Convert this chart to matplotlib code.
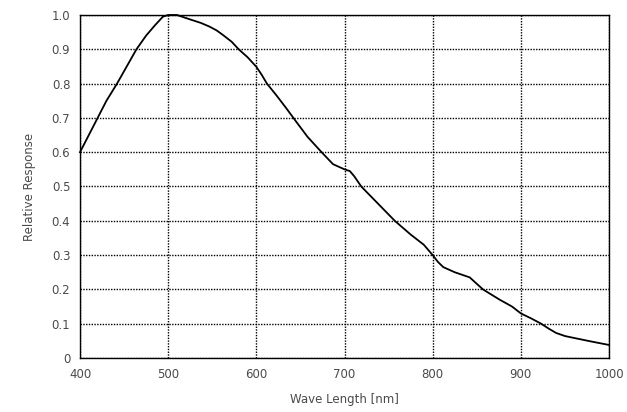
import matplotlib
matplotlib.use("Agg")
import matplotlib.pyplot as plt

# =========================
# Data
# =========================
wavelength = [400, 410, 420, 430, 442, 453, 464, 475, 485, 494, 500, 510,
              525, 537, 547, 555, 562, 572, 580, 590, 600, 606, 612, 623,
              634, 642, 658, 674, 687, 700, 706, 711, 715, 719, 738, 757,
              775, 790, 800, 806, 812, 825, 842, 857, 876, 890, 900, 912,
              923, 932, 940, 950, 963, 980, 1000]
response = [0.60, 0.65, 0.70, 0.75, 0.80, 0.85, 0.90, 0.94, 0.97, 0.995, 1.00, 1.00,
            0.987, 0.977, 0.966, 0.955, 0.942, 0.922, 0.90, 0.877, 0.849, 0.826, 0.80, 0.765,
            0.728, 0.70, 0.645, 0.60, 0.565, 0.55, 0.545, 0.53, 0.515, 0.50, 0.45, 0.40,
            0.36, 0.33, 0.30, 0.28, 0.265, 0.25, 0.235, 0.20, 0.17, 0.15, 0.13, 0.115,
            0.10, 0.085, 0.073, 0.064, 0.057, 0.048, 0.038]

x_ticks = [400, 500, 600, 700, 800, 900, 1000]
y_ticks = [0, 0.1, 0.2, 0.3, 0.4, 0.5, 0.6, 0.7, 0.8, 0.9, 1.0]
y_tick_labels = ["0", "0.1", "0.2", "0.3", "0.4", "0.5", "0.6", "0.7", "0.8", "0.9", "1.0"]

TEXT_COLOR = "#4a4a4a"

# =========================
# Plot
# =========================
fig = plt.figure(figsize=(6.27, 4.12), dpi=100)
ax = fig.add_axes([0.1276, 0.1311, 0.8437, 0.8325])

ax.plot(wavelength, response, color="black", linewidth=1.3, clip_on=False)

ax.set_xlim(400, 1000)
ax.set_ylim(0, 1.0)
ax.set_xticks(x_ticks)
ax.set_yticks(y_ticks)
ax.set_yticklabels(y_tick_labels)

ax.grid(True, color="black", linestyle=(0, (1, 1)), linewidth=1.0)
ax.set_axisbelow(True)
for spine in ax.spines.values():
    spine.set_linestyle((0, (1, 1)))
    spine.set_linewidth(1.0)

ax.tick_params(length=0, pad=7, labelsize=8.5, labelcolor=TEXT_COLOR)
ax.set_xlabel("Wave Length [nm]", fontsize=8.5, color=TEXT_COLOR, labelpad=9)
ax.set_ylabel("Relative Response", fontsize=8.5, color=TEXT_COLOR, labelpad=11)

fig.savefig("out.png", dpi=100)
